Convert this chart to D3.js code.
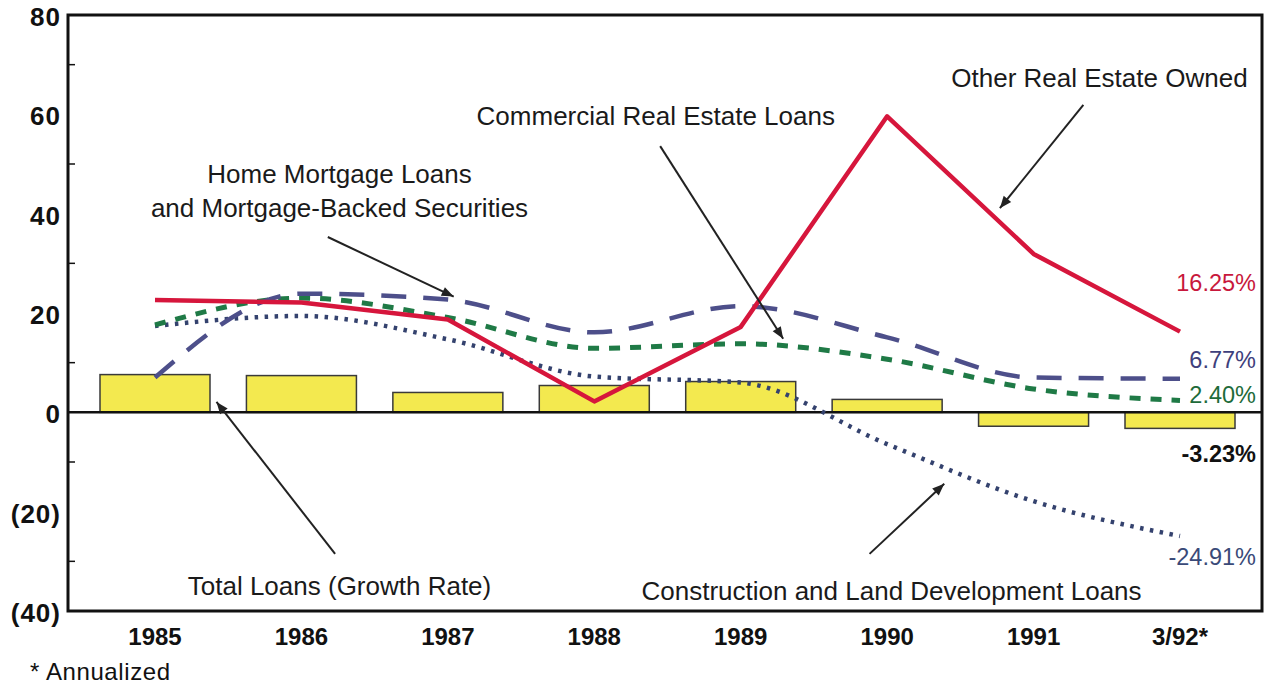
<!DOCTYPE html>
<html>
<head>
<meta charset="utf-8">
<style>
  body { margin: 0; background: #fff; }
  text { font-family: "Liberation Sans", Arial, Helvetica, sans-serif; }
</style>
</head>
<body>
<div id="container"></div>
<script src="https://cdn.jsdelivr.net/npm/d3@7"></script>
<script>
// ---- data ----
const years = ['1985', '1986', '1987', '1988', '1989', '1990', '1991', '3/92*'];
const totalLoans   = [7.6, 7.4, 4.0, 5.4, 6.2, 2.6, -2.8, -3.23];
const otherREO     = [22.6, 22.1, 18.7, 2.2, 17.2, 59.6, 31.9, 16.25];
const homeMortgage = [7.0, 23.9, 22.7, 16.1, 21.4, 15.1, 7.0, 6.77];
const commercialRE = [17.6, 23.0, 19.1, 12.9, 13.8, 10.7, 4.7, 2.40];
const construction = [17.4, 19.4, 14.7, 7.2, 6.0, -6.4, -17.9, -24.91];
const yTicks = [80, 60, 40, 20, 0, -20, -40];
const endLabels = ['16.25%', '6.77%', '2.40%', '-3.23%', '-24.91%'];

const width = 1271, height = 687;
const m = { left: 68, right: 1262, top: 15, bottom: 611 };

const svg = d3.create('svg').attr('width', width).attr('height', height);

const x = d3.scalePoint().domain(years).range([155, 1180]);
// fractional category index, used for annotations
const xi = d3.scaleLinear().domain([0, years.length - 1]).range([155, 1180]);
const y = d3.scaleLinear().domain([-40, 80]).range([m.bottom, m.top]);

// bars
svg.append('g').selectAll('rect').data(totalLoans).enter().append('rect')
  .attr('x', (d, i) => x(years[i]) - 55)
  .attr('width', 110)
  .attr('y', d => y(Math.max(0, d)))
  .attr('height', d => Math.abs(y(d) - y(0)))
  .attr('fill', '#f3e94f')
  .attr('stroke', '#3a3a3a')
  .attr('stroke-width', 1.5);

// zero line
svg.append('line')
  .attr('x1', m.left).attr('x2', m.right)
  .attr('y1', y(0)).attr('y2', y(0))
  .attr('stroke', '#111').attr('stroke-width', 2.5);

const lineLin = d3.line().x((d, i) => x(years[i])).y(d => y(d));
const lineSm = d3.line().x((d, i) => x(years[i])).y(d => y(d)).curve(d3.curveMonotoneX);

svg.append('path').datum(construction).attr('d', lineSm)
  .attr('fill', 'none').attr('stroke', '#34426e').attr('stroke-width', 4.5)
  .attr('stroke-dasharray', '3.5,6.5');
svg.append('path').datum(commercialRE).attr('d', lineSm)
  .attr('fill', 'none').attr('stroke', '#1f7a46').attr('stroke-width', 5)
  .attr('stroke-dasharray', '11,10');
svg.append('path').datum(homeMortgage).attr('d', lineSm)
  .attr('fill', 'none').attr('stroke', '#4d4f8a').attr('stroke-width', 4.5)
  .attr('stroke-dasharray', '25,17');
svg.append('path').datum(otherREO).attr('d', lineLin)
  .attr('fill', 'none').attr('stroke', '#d6163c').attr('stroke-width', 4.5)
  .attr('stroke-linejoin', 'round');

// frame
svg.append('rect')
  .attr('x', m.left).attr('y', m.top)
  .attr('width', m.right - m.left).attr('height', m.bottom - m.top)
  .attr('fill', 'none').attr('stroke', '#111').attr('stroke-width', 3);

// minor ticks inside left axis at the odd tens
svg.append('g').selectAll('line').data(d3.range(70, -40, -20)).enter().append('line')
  .attr('x1', m.left).attr('x2', m.left + 7)
  .attr('y1', d => y(d)).attr('y2', d => y(d))
  .attr('stroke', '#111').attr('stroke-width', 1.5);

// y labels
svg.append('g').selectAll('text').data(yTicks).enter().append('text')
  .attr('x', 61).attr('y', d => y(d) + 11)
  .attr('text-anchor', 'end')
  .attr('font-size', 26).attr('font-weight', 'bold').attr('fill', '#111')
  .attr('letter-spacing', 1)
  .text(d => d < 0 ? `(${-d})` : d);

// x labels
svg.append('g').selectAll('text').data(years).enter().append('text')
  .attr('x', d => x(d)).attr('y', 645)
  .attr('text-anchor', 'middle')
  .attr('font-size', 24).attr('font-weight', 'bold').attr('fill', '#111')
  .text(d => d);

svg.append('text').attr('x', 30).attr('y', 680)
  .attr('font-size', 24).attr('fill', '#111').attr('letter-spacing', 0.6)
  .text('* Annualized');

// end value labels
const endSeries = [otherREO, homeMortgage, commercialRE, totalLoans, construction];
const endColors = ['#c8183c', '#3e407c', '#1e6b3a', '#111', '#3a4a78'];
const endDy = [-41, -11, 3, 34, 29];
svg.append('g').selectAll('text').data(endLabels).enter().append('text')
  .attr('x', 1256)
  .attr('y', (d, i) => y(endSeries[i][endSeries[i].length - 1]) + endDy[i])
  .attr('text-anchor', 'end')
  .attr('font-size', 23.5)
  .attr('font-weight', (d, i) => i === 3 ? 'bold' : 'normal')
  .attr('fill', (d, i) => endColors[i])
  .text(d => d);

// annotations: text + arrows, in data space (category index, value)
svg.append('defs').append('marker')
  .attr('id', 'ah').attr('viewBox', '0 0 10 10')
  .attr('refX', 10).attr('refY', 5)
  .attr('markerWidth', 16).attr('markerHeight', 12)
  .attr('markerUnits', 'userSpaceOnUse')
  .attr('orient', 'auto')
  .append('path').attr('d', 'M0,1 L10,5 L0,9 z').attr('fill', '#222');

const notes = [
  { lines: ['Home Mortgage Loans', 'and Mortgage-Backed Securities'], at: [1.26, 46.2], from: [1.18, 35.3], to: [2.04, 23.3] },
  { lines: ['Commercial Real Estate Loans'], at: [3.42, 57.8], from: [3.45, 53.6], to: [4.29, 14.8] },
  { lines: ['Other Real Estate Owned'], at: [6.45, 65.5], from: [6.34, 61.9], to: [5.77, 41.1] },
  { lines: ['Total Loans (Growth Rate)'], at: [1.26, -36.7], from: [1.23, -28.5], to: [0.42, 2.1] },
  { lines: ['Construction and Land Development Loans'], at: [5.03, -37.8], from: [4.88, -28.5], to: [5.39, -14.4] }
];

notes.forEach(n => {
  const t = svg.append('text')
    .attr('x', xi(n.at[0])).attr('y', y(n.at[1]))
    .attr('text-anchor', 'middle')
    .attr('font-size', 26).attr('fill', '#1a1a1a');
  n.lines.forEach((l, k) => {
    t.append('tspan').attr('x', xi(n.at[0])).attr('dy', k ? 34 : 0).text(l);
  });
  svg.append('line')
    .attr('x1', xi(n.from[0])).attr('y1', y(n.from[1]))
    .attr('x2', xi(n.to[0])).attr('y2', y(n.to[1]))
    .attr('stroke', '#222').attr('stroke-width', 2)
    .attr('marker-end', 'url(#ah)');
});

container.append(svg.node());
</script>
</body>
</html>
